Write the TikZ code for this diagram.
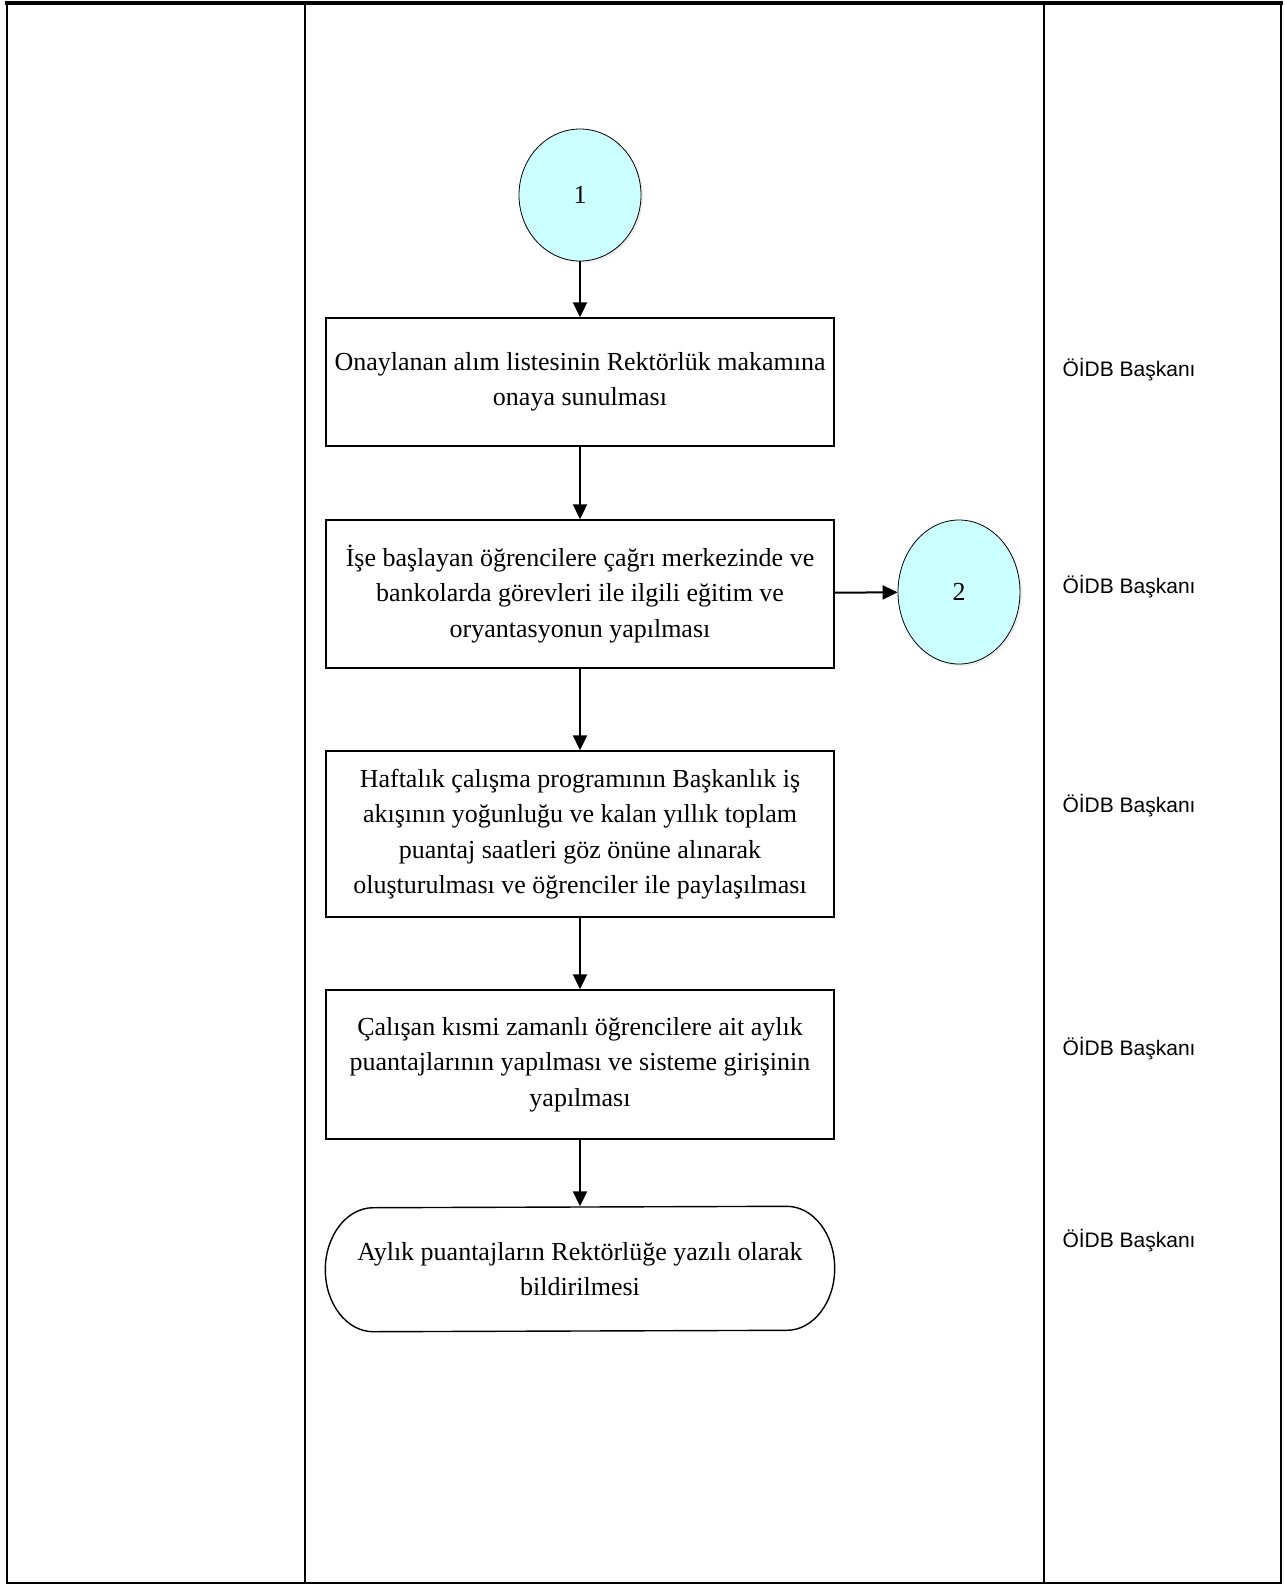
\documentclass[tikz,border=0pt]{standalone}
\usepackage{fontspec}
\setmainfont{Liberation Serif}
\newfontfamily\arialfont{Liberation Sans}
\usepackage{xcolor}
\usetikzlibrary{arrows.meta,shapes.geometric,shadows,calc}

\definecolor{baglanti}{HTML}{CCFFFF}

\tikzset{
  adim/.style={draw, line width=1.4pt, minimum width=508pt, align=center,
    font=\fontsize{26}{35.5}\selectfont},
  bitis/.style={adim, draw=none},
  baglan/.style={ellipse, draw, line width=0.8pt, fill=baglanti,
    minimum width=122pt, font=\fontsize{26}{30}\selectfont,
    drop shadow={shadow xshift=2pt, shadow yshift=-2pt, opacity=0.15}},
  sorumlu/.style={anchor=west, font=\arialfont\fontsize{21}{24}\selectfont},
  ok/.style={line width=2pt, -{Triangle[length=15pt,width=14pt]}}
}

\begin{document}
\begin{tikzpicture}[x=1pt,y=-1pt]
\useasboundingbox (0,0) rectangle (1285,1585);
% tablo
\draw[line width=2.6pt] (7,3) -- (7,1583) -- (1281,1583) -- (1281,3);
\draw[line width=2.6pt] (305,3) -- (305,1583);
\draw[line width=2.6pt] (1044,3) -- (1044,1583);
\draw[line width=4.5pt] (5,3) -- (1283,3);

\node[baglan, minimum height=132pt] (K1) at (580,195) {1};
  \node[adim, minimum height=128pt] (A) at (580,382)
    {Onaylanan alım listesinin Rektörlük makamına\\onaya sunulması};
  \node[adim, minimum height=148pt] (B) at (580,594)
    {İşe başlayan öğrencilere çağrı merkezinde ve\\bankolarda görevleri ile ilgili eğitim ve\\oryantasyonun yapılması};
  \node[baglan, minimum height=144pt] (K2) at (959,592) {2};
  \node[adim, minimum height=166pt] (C) at (580,834)
    {Haftalık çalışma programının Başkanlık iş\\akışının yoğunluğu ve kalan yıllık toplam\\puantaj saatleri göz önüne alınarak\\oluşturulması ve öğrenciler ile paylaşılması};
  \node[adim, minimum height=149pt] (D) at (580,1064.5)
    {Çalışan kısmi zamanlı öğrencilere ait aylık\\puantajlarının yapılması ve sisteme girişinin\\yapılması};
  \node[bitis, minimum height=124pt] (E) at (580,1269)
    {Aylık puantajların Rektörlüğe yazılı olarak\\bildirilmesi};
  % bitis cercevesi
  \draw[line width=1.4pt, line join=round]
    ($(E.south west)+(48,0)$)
    arc[start angle=90, end angle=270, x radius=48, y radius=62]
    -- ($(E.north east)+(-48,0)$)
    arc[start angle=-90, end angle=90, x radius=48, y radius=62]
    -- cycle;

  \node[sorumlu] (R1) at (1059,370)  {ÖİDB Başkanı};
  \node[sorumlu] (R2) at (1059,587)  {ÖİDB Başkanı};
  \node[sorumlu] (R3) at (1059,806)  {ÖİDB Başkanı};
  \node[sorumlu] (R4) at (1059,1049) {ÖİDB Başkanı};
  \node[sorumlu] (R5) at (1059,1241) {ÖİDB Başkanı};

  \path[ok]
    (K1) edge (A)
    (A) edge (B)
    (B) edge (K2)
    (B) edge (C)
    (C) edge (D)
    (D) edge (E);
\end{tikzpicture}
\end{document}
